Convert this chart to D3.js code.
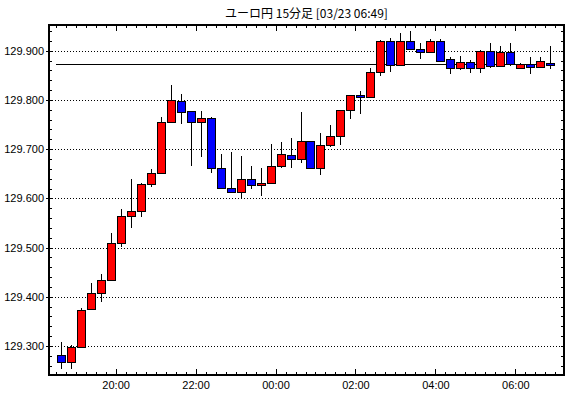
<!DOCTYPE html>
<html lang="ja">
<head>
  <meta charset="UTF-8" />
  <title>ユーロ円 15分足</title>
  <style>
    body { margin: 0; background: #fff; }
    svg { display: block; }
    .axis text { font-family: "Liberation Sans Narrow", "Liberation Sans", Arial, sans-serif; font-size: 11px; fill: #000; }
    .axis line { stroke: #000; }
    .axis path { display: none; }
  </style>
</head>
<body>
  <svg id="chart"></svg>

  <script src="https://d3js.org/d3.v7.min.js"></script>
  <script>
    const W = 570, H = 398;
    const box = { left: 49, right: 564, top: 25, bottom: 375 };

    const title = "ユーロ円 15分足 [03/23 06:49]";

    // 15 minute bars, 03/22 18:30 -> 03/23 06:45
    const times = [
      "18:30","18:45","19:00","19:15","19:30","19:45","20:00","20:15","20:30","20:45",
      "21:00","21:15","21:30","21:45","22:00","22:15","22:30","22:45","23:00","23:15",
      "23:30","23:45","00:00","00:15","00:30","00:45","01:00","01:15","01:30","01:45",
      "02:00","02:15","02:30","02:45","03:00","03:15","03:30","03:45","04:00","04:15",
      "04:30","04:45","05:00","05:15","05:30","05:45","06:00","06:15","06:30","06:45"
    ];
    const open = [
      129.281,129.267,129.299,129.375,129.407,129.434,129.510,129.564,129.574,129.629,
      129.651,129.755,129.798,129.777,129.755,129.763,129.662,129.622,129.612,129.639,
      129.627,129.631,129.665,129.688,129.679,129.716,129.661,129.708,129.726,129.779,
      129.809,129.805,129.856,129.919,129.871,129.919,129.903,129.897,129.919,129.883,
      129.864,129.878,129.864,129.900,129.869,129.897,129.864,129.872,129.866,129.876
    ];
    const high = [
      129.308,129.303,129.377,129.428,129.446,129.530,129.578,129.639,129.631,129.659,
      129.765,129.830,129.812,129.778,129.777,129.765,129.690,129.694,129.686,129.666,
      129.661,129.710,129.715,129.722,129.775,129.717,129.733,129.749,129.780,129.810,
      129.818,129.864,129.922,129.925,129.935,129.940,129.915,129.923,129.923,129.887,
      129.889,129.881,129.901,129.915,129.910,129.915,129.876,129.887,129.887,129.910
    ];
    const low = [
      129.254,129.254,129.298,129.374,129.390,129.432,129.502,129.540,129.563,129.624,
      129.649,129.753,129.752,129.666,129.683,129.651,129.621,129.610,129.600,129.620,
      129.605,129.630,129.661,129.662,129.672,129.660,129.647,129.705,129.709,129.762,
      129.771,129.804,129.849,129.857,129.870,129.902,129.883,129.896,129.879,129.852,
      129.860,129.854,129.855,129.865,129.867,129.869,129.863,129.852,129.866,129.862
    ];
    const close = [
      129.267,129.299,129.373,129.407,129.434,129.509,129.564,129.574,129.629,129.651,
      129.755,129.799,129.776,129.755,129.763,129.662,129.622,129.612,129.639,129.627,
      129.631,129.665,129.690,129.679,129.716,129.661,129.708,129.726,129.779,129.809,
      129.805,129.856,129.919,129.871,129.919,129.903,129.897,129.919,129.880,129.864,
      129.878,129.864,129.900,129.869,129.897,129.873,129.872,129.866,129.880,129.870
    ];
    const yTicks = [129.3, 129.4, 129.5, 129.6, 129.7, 129.8, 129.9];
    const refLevel = 129.872;

    const toDate = s => {
      const [h, m] = s.split(":").map(Number);
      return new Date(2021, 2, h >= 12 ? 22 : 23, h, m);
    };
    const data = times.map((t, i) => ({
      t: toDate(t), o: open[i], h: high[i], l: low[i], c: close[i]
    }));

    const svg = d3.select("#chart").attr("width", W).attr("height", H);

    const x = d3.scaleTime()
      .domain([new Date(2021, 2, 22, 18, 20), new Date(2021, 2, 23, 7, 13)])
      .range([box.left, box.right]);

    const y = d3.scaleLinear()
      .domain([129.2411, 129.9522])
      .range([box.bottom, box.top]);

    const minorY = d3.range(129.26, 129.95, 0.02).map(v => +v.toFixed(2));

    // title
    svg.append("text")
      .attr("x", (box.left + box.right) / 2)
      .attr("y", 18)
      .attr("text-anchor", "middle")
      .style("font-family", "'Noto Sans CJK JP', sans-serif")
      .style("font-size", "12px")
      .text(title);

    // dotted grid
    svg.append("g").selectAll("line")
      .data(yTicks)
      .join("line")
      .attr("x1", box.left).attr("x2", box.right)
      .attr("y1", d => Math.round(y(d)) + 0.5)
      .attr("y2", d => Math.round(y(d)) + 0.5)
      .attr("stroke", "#000")
      .attr("stroke-dasharray", "1,2")
      .attr("shape-rendering", "crispEdges");

    // level line
    svg.append("line")
      .attr("x1", x(data[0].t))
      .attr("x2", x(data[data.length - 1].t))
      .attr("y1", Math.round(y(refLevel)) + 0.5)
      .attr("y2", Math.round(y(refLevel)) + 0.5)
      .attr("stroke", "#000")
      .attr("stroke-width", 1.2)
      .attr("shape-rendering", "crispEdges");

    // axes (ticks point inward)
    const addAxis = (axis, tx, ty) => svg.append("g")
      .attr("class", "axis")
      .attr("transform", `translate(${tx},${ty})`)
      .call(axis)
      .attr("shape-rendering", "crispEdges");

    const every15 = d3.timeMinute.every(15);
    const every2h = d3.timeHour.every(2);

    addAxis(d3.axisBottom(x).ticks(every15).tickSizeInner(-3).tickSizeOuter(0).tickFormat(""), 0, box.bottom);
    addAxis(d3.axisBottom(x).ticks(every2h).tickSizeInner(-6).tickSizeOuter(0)
      .tickPadding(6).tickFormat(d3.timeFormat("%H:%M")), 0, box.bottom);
    addAxis(d3.axisTop(x).ticks(every15).tickSizeInner(-3).tickSizeOuter(0).tickFormat(""), 0, box.top);
    addAxis(d3.axisTop(x).ticks(every2h).tickSizeInner(-6).tickSizeOuter(0).tickFormat(""), 0, box.top);

    addAxis(d3.axisLeft(y).tickValues(minorY).tickSizeInner(-3).tickSizeOuter(0).tickFormat(""), box.left, 0);
    addAxis(d3.axisLeft(y).tickValues(yTicks).tickSizeInner(3).tickSizeOuter(0)
      .tickPadding(2).tickFormat(d3.format(".3f")), box.left, 0);
    addAxis(d3.axisRight(y).tickValues(minorY).tickSizeInner(-3).tickSizeOuter(0).tickFormat(""), box.right, 0);

    // candles
    const half = 7.5 * 60000;
    const cx = d => Math.round(x(new Date(+d.t + half))) + 0.5;

    const candles = svg.append("g")
      .attr("shape-rendering", "crispEdges")
      .selectAll("g")
      .data(data)
      .join("g");

    candles.append("line")
      .attr("x1", cx).attr("x2", cx)
      .attr("y1", d => Math.round(y(d.h)))
      .attr("y2", d => Math.round(y(d.l)))
      .attr("stroke", "#000");

    candles.append("rect")
      .attr("x", d => cx(d) - 4)
      .attr("width", 8)
      .attr("y", d => Math.round(y(Math.max(d.o, d.c))) + 0.5)
      .attr("height", d => Math.max(1, Math.round(y(Math.min(d.o, d.c))) - Math.round(y(Math.max(d.o, d.c)))))
      .attr("fill", d => d.c >= d.o ? "#ff0000" : "#0000ff")
      .attr("stroke", "#000");

    // frame
    svg.append("rect")
      .attr("x", box.left).attr("y", box.top)
      .attr("width", box.right - box.left)
      .attr("height", box.bottom - box.top)
      .attr("fill", "none")
      .attr("stroke", "#000")
      .attr("stroke-width", 2)
      .attr("shape-rendering", "crispEdges");
  </script>
</body>
</html>
